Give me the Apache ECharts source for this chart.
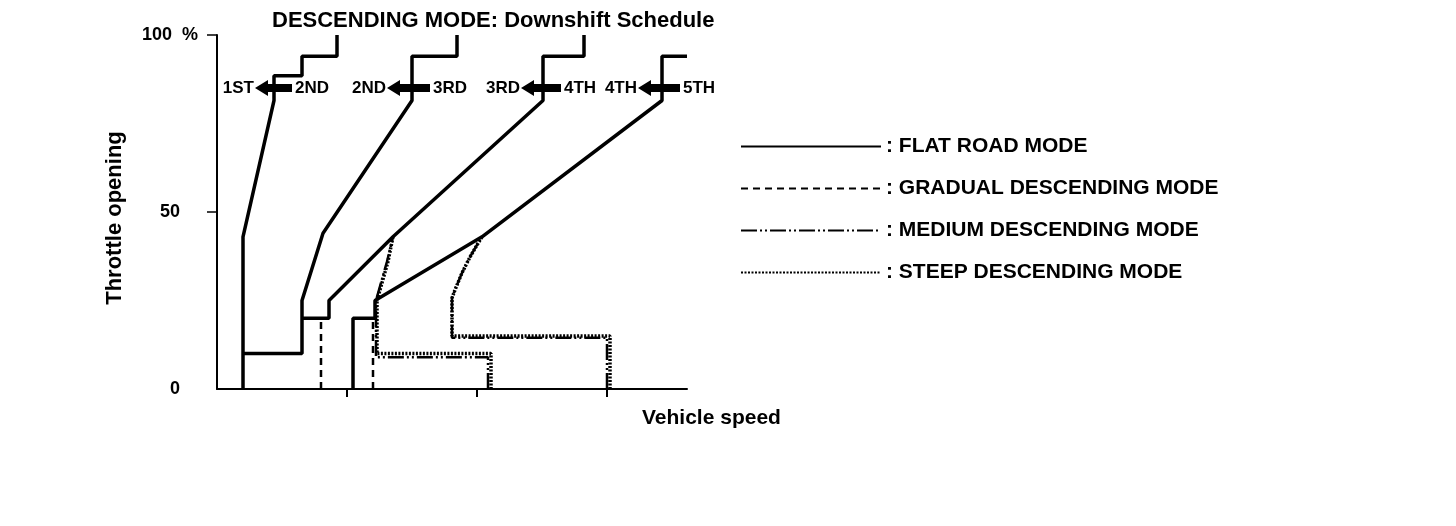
<!DOCTYPE html>
<html>
<head>
<meta charset="utf-8">
<title>Descending mode downshift schedule</title>
<script src="https://cdn.jsdelivr.net/npm/echarts@6/dist/echarts.min.js"></script>
<style>
  html, body { margin: 0; padding: 0; background: #fff; }
  #chart { width: 1456px; height: 526px; }
</style>
</head>
<body>
<div id="chart"></div>
<script>
// vehicle speed has no scale on the original, x runs 0..47 (ticks at 13/26/39)
const xMax = 47
const xTicks = [13, 26, 39]
const yTicks = [50, 100]

// flat road mode (solid) - one polyline per downshift line
const flat1X = [2.6, 2.6, 5.7, 5.7, 8.5, 8.5, 12.0, 12.0]
const flat1Y = [0, 43, 81.5, 88.5, 88.5, 94, 94, 100]
const flat2X = [2.6, 8.5, 8.5, 10.6, 19.5, 19.5, 24.0, 24.0]
const flat2Y = [10, 10, 25, 44, 81.5, 94, 94, 100]
const flat3X = [8.5, 11.2, 11.2, 17.6, 32.6, 32.6, 36.7, 36.7]
const flat3Y = [20, 20, 25, 43, 81.5, 94, 94, 100]
const flat4X = [13.6, 13.6, 15.8, 15.8, 26.5, 44.5, 44.5, 47]
const flat4Y = [0, 20, 20, 25, 43, 81.5, 94, 94]

// gradual descending mode (dashed)
const grad1X = [10.4, 10.4]
const grad1Y = [0, 20]
const grad2X = [15.6, 15.6]
const grad2Y = [0, 20]

// medium descending mode (dash-dot)
const med1X = [27.1, 27.1, 15.9, 15.9, 16.3, 17.0, 17.6]
const med1Y = [0, 9, 9, 25, 29, 36, 43]
const med2X = [39.0, 39.0, 23.5, 23.5, 23.8, 24.5, 25.3, 26.0, 26.5]
const med2Y = [0, 14.5, 14.5, 25.7, 28, 32.8, 37.3, 40.7, 43]

// steep descending mode (dotted)
const steep1X = [27.4, 27.4, 16.0, 16.0, 16.4, 17.1, 17.6]
const steep1Y = [0, 10, 10, 25, 29, 36, 43]
const steep2X = [39.3, 39.3, 23.5, 23.5, 23.8, 24.5, 25.3, 26.0, 26.5]
const steep2Y = [0, 15, 15, 25.7, 28, 32.8, 37.3, 40.7, 43]

// gear change arrows near the top
const arrowTip = [3.8, 17.0, 30.4, 42.1]
const arrowTail = [7.5, 21.3, 34.4, 46.3]
const arrowY = 85.3
const gearFrom = ['1ST', '2ND', '3RD', '4TH']
const gearTo = ['2ND', '3RD', '4TH', '5TH']

const FONT = '"Liberation Sans", Arial, Helvetica, sans-serif'

const FLAT = 'FLAT ROAD MODE'
const GRAD = 'GRADUAL DESCENDING MODE'
const MED = 'MEDIUM DESCENDING MODE'
const STEEP = 'STEEP DESCENDING MODE'

const styles = {}
styles[FLAT] = { color: '#000', width: 3.5, type: 'solid' }
styles[GRAD] = { color: '#000', width: 2.5, type: [7, 5] }
styles[MED] = { color: '#000', width: 2.5, type: [16, 3, 2, 3, 2, 3] }
styles[STEEP] = { color: '#000', width: 3.5, type: [2, 1.5] }

function line(name, xs, ys, z) {
  return {
    type: 'line',
    name: name,
    data: xs.map((x, i) => [x, ys[i]]),
    symbol: 'none',
    showSymbol: false,
    clip: false,
    silent: true,
    z: z,
    color: '#000',
    itemStyle: { color: '#000' },
    lineStyle: styles[name]
  }
}

function renderArrow(params, api) {
  const i = params.dataIndex
  const tip = api.coord([api.value(0), api.value(2)])
  const tail = api.coord([api.value(1), api.value(2)])
  const cy = tip[1] + 1
  const hx = tip[0] + 13
  const font = 'bold 17px ' + FONT
  return {
    type: 'group',
    children: [
      {
        type: 'polygon',
        shape: { points: [[tip[0], cy], [hx, cy - 8], [hx, cy - 4], [tail[0], cy - 4], [tail[0], cy + 4], [hx, cy + 4], [hx, cy + 8]] },
        style: { fill: '#000' }
      },
      {
        type: 'text', x: tip[0] - 1, y: cy,
        style: { text: gearFrom[i], font: font, fill: '#000', align: 'right', verticalAlign: 'middle' }
      },
      {
        type: 'text', x: tail[0] + 3, y: cy,
        style: { text: gearTo[i], font: font, fill: '#000', align: 'left', verticalAlign: 'middle' }
      }
    ]
  }
}

const chart = echarts.init(document.getElementById('chart'))

const option = {
  backgroundColor: '#fff',
  animation: false,
  color: ['#000'],
  title: {
    text: 'DESCENDING MODE: Downshift Schedule',
    left: 272,
    top: 10,
    padding: 0,
    textStyle: { fontSize: 22, fontWeight: 'bold', color: '#000', fontFamily: FONT }
  },
  legend: {
    orient: 'vertical',
    left: 740,
    top: 136,
    padding: 0,
    itemWidth: 140,
    itemHeight: 14,
    itemGap: 21,
    data: [FLAT, GRAD, MED, STEEP],
    formatter: n => ': ' + n,
    itemStyle: { opacity: 0 },
    textStyle: { fontSize: 21, fontWeight: 'bold', color: '#000', fontFamily: FONT }
  },
  grid: { left: 217, top: 35, width: 470, height: 354 },
  xAxis: {
    type: 'value',
    min: 0,
    max: xMax,
    name: 'Vehicle speed',
    nameLocation: 'end',
    nameGap: -45,
    nameTextStyle: { fontSize: 21, fontWeight: 'bold', color: '#000', fontFamily: FONT, align: 'left', verticalAlign: 'top', padding: [19, 0, 0, 0] },
    axisLine: { show: true, lineStyle: { color: '#000', width: 2 } },
    axisTick: { show: true, length: 8, customValues: xTicks, lineStyle: { color: '#000', width: 2 } },
    axisLabel: { show: false },
    splitLine: { show: false }
  },
  yAxis: {
    type: 'value',
    min: 0,
    max: 100,
    interval: 50,
    name: 'Throttle opening',
    nameLocation: 'middle',
    nameGap: 91,
    nameTextStyle: { fontSize: 22, fontWeight: 'bold', color: '#000', fontFamily: FONT, padding: [0, 12, 0, 0] },
    axisLine: { show: true, lineStyle: { color: '#000', width: 2 } },
    axisTick: { show: true, length: 10, customValues: yTicks, lineStyle: { color: '#000', width: 1.5 } },
    axisLabel: {
      margin: 19,
      color: '#000',
      fontSize: 18,
      fontWeight: 'bold',
      fontFamily: FONT,
      formatter: v => v === 100 ? '100  %' : '{n|' + v + '}',
      rich: { n: { padding: [0, 18, 0, 0], fontSize: 18, fontWeight: 'bold', fontFamily: FONT, color: '#000' } }
    },
    splitLine: { show: false }
  },
  series: [
    line(FLAT, flat1X, flat1Y, 5),
    line(GRAD, grad1X, grad1Y, 3),
    line(MED, med1X, med1Y, 3),
    line(STEEP, steep1X, steep1Y, 4),
    line(FLAT, flat2X, flat2Y, 5),
    line(FLAT, flat3X, flat3Y, 5),
    line(FLAT, flat4X, flat4Y, 5),
    line(GRAD, grad2X, grad2Y, 3),
    line(MED, med2X, med2Y, 3),
    line(STEEP, steep2X, steep2Y, 4),
    {
      type: 'custom',
      name: 'arrows',
      silent: true,
      clip: false,
      z: 6,
      renderItem: renderArrow,
      encode: { x: [0, 1], y: 2 },
      data: arrowTip.map((t, i) => [t, arrowTail[i], arrowY])
    }
  ]
}

chart.setOption(option)
</script>
</body>
</html>
